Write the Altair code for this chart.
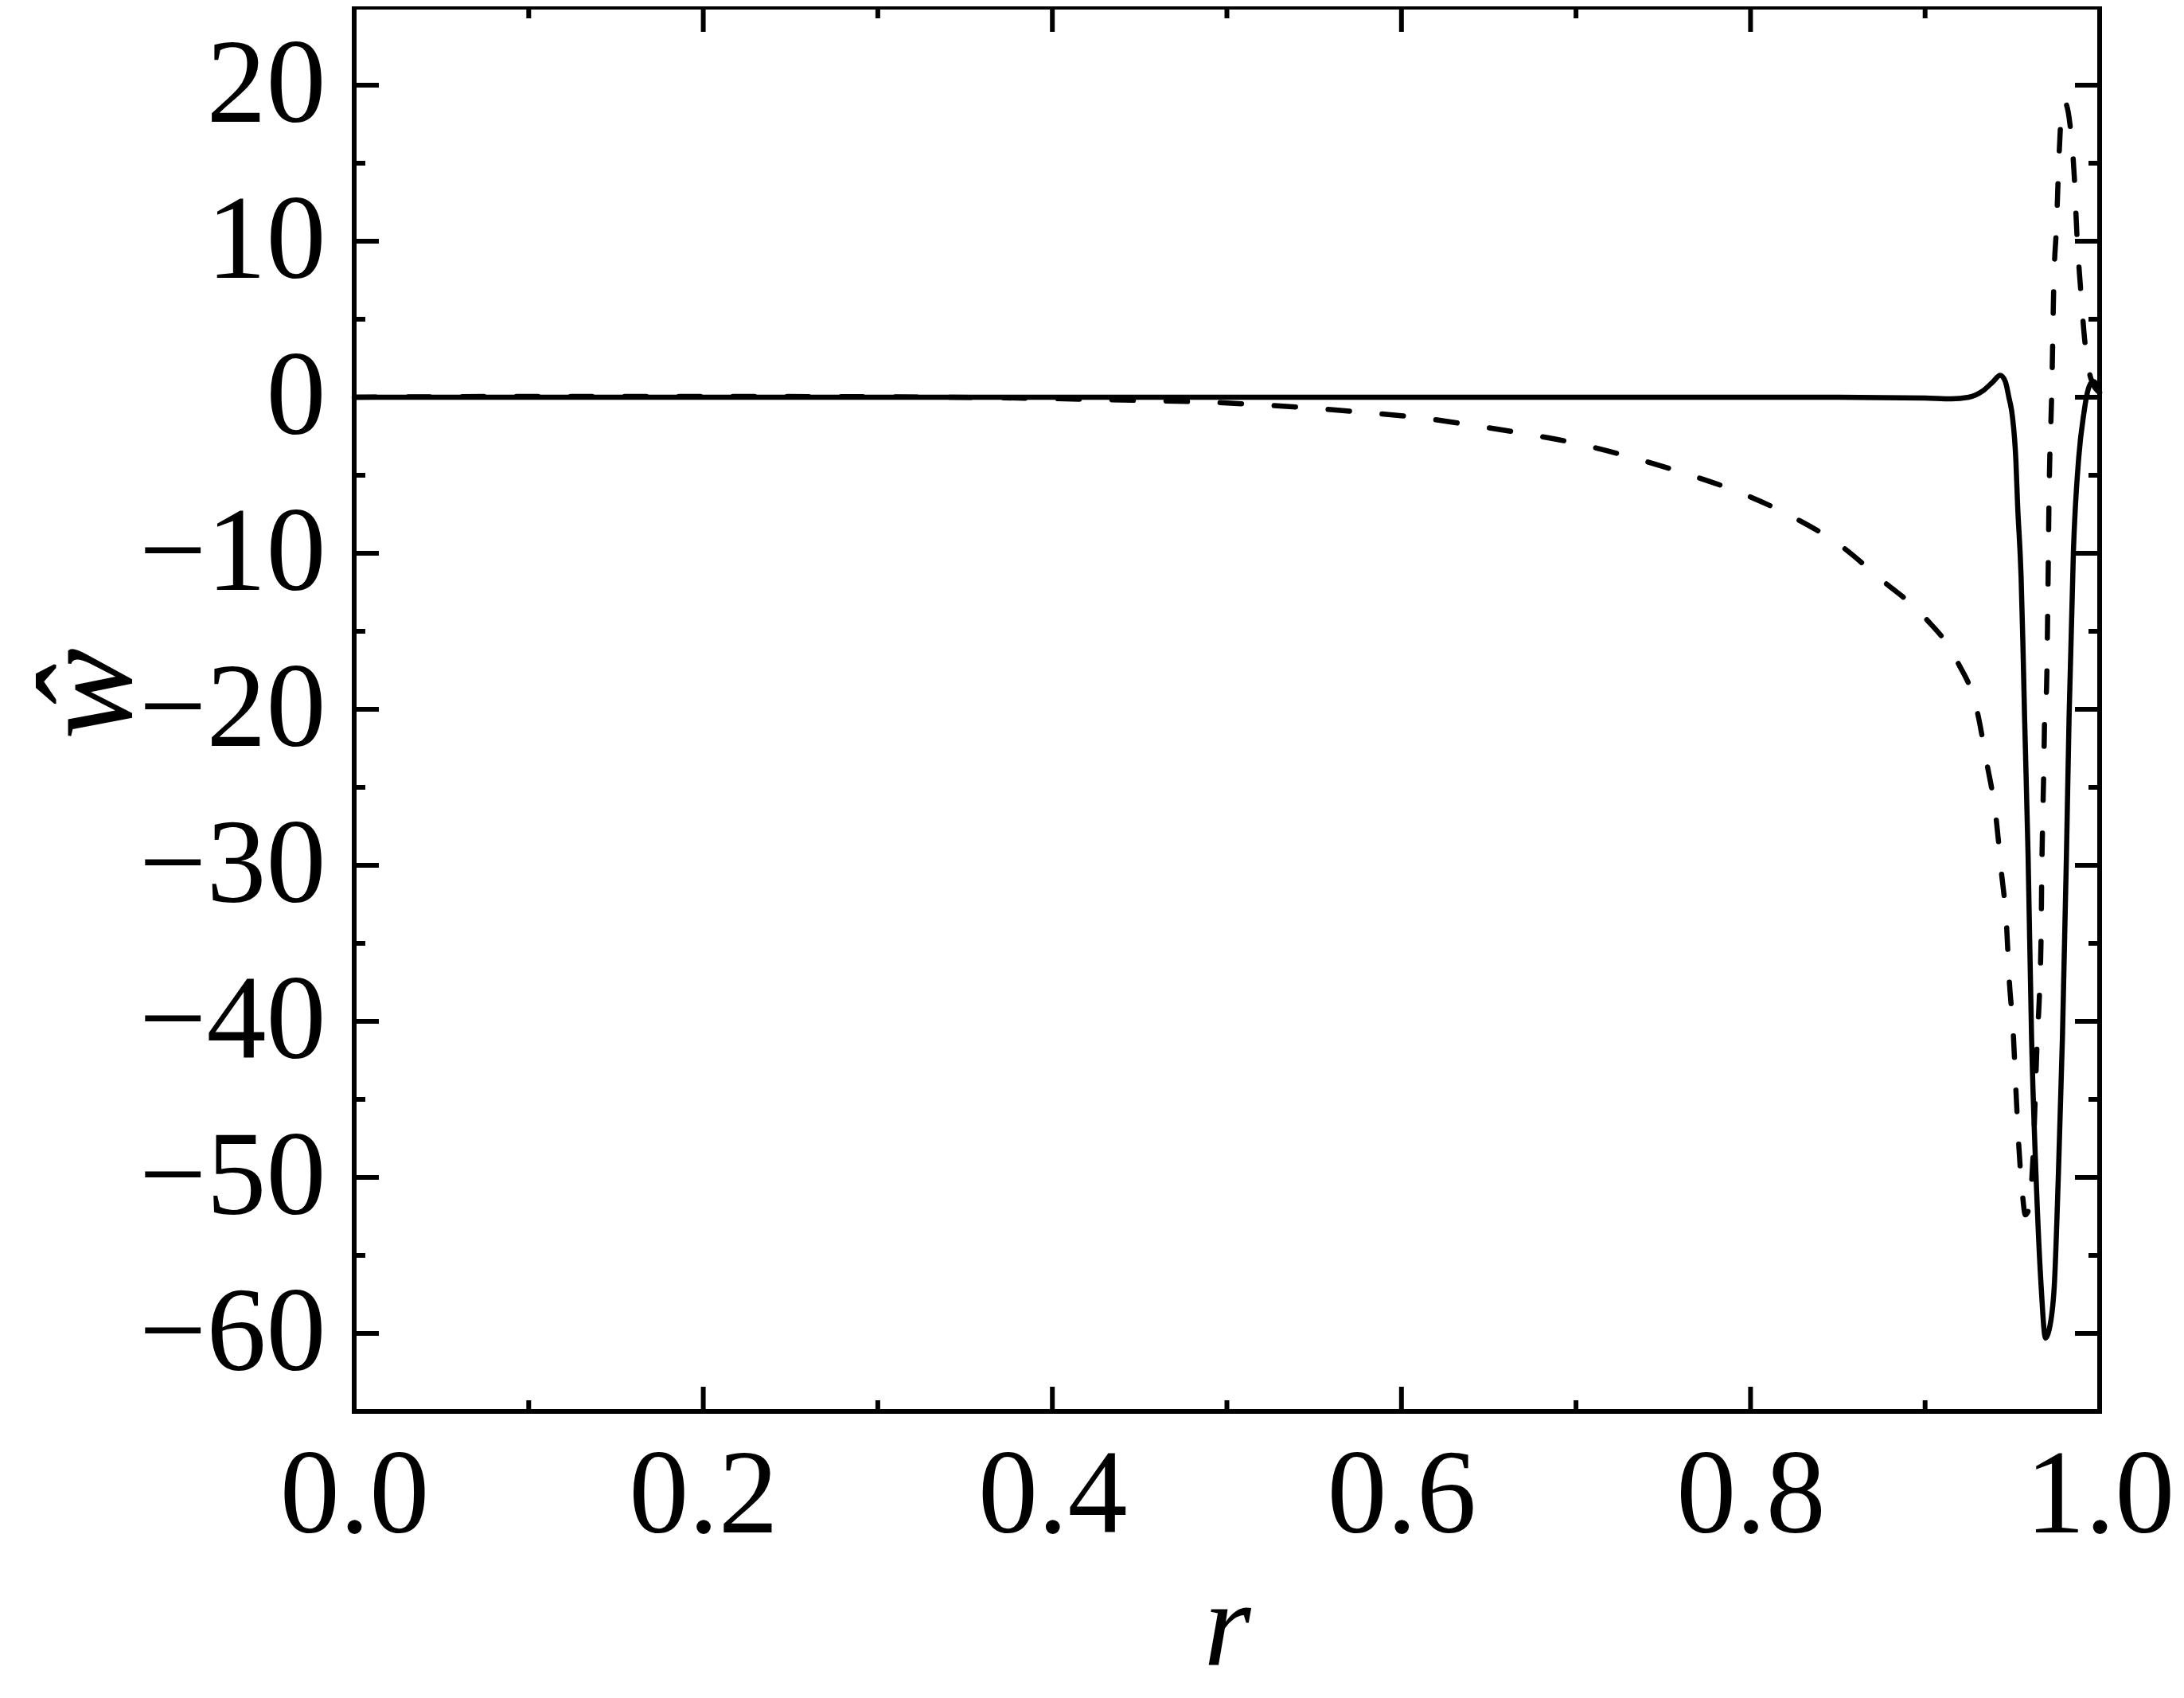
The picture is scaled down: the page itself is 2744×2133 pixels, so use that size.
import altair as alt
import pandas as pd

# solid curve (r, w_hat)
solid_r = [0.0, 0.3, 0.6, 0.85, 0.90, 0.915, 0.925, 0.933, 0.939, 0.943, 0.946, 0.948,
           0.950, 0.952, 0.953, 0.955, 0.956, 0.957, 0.959, 0.961, 0.9635, 0.9665, 0.969,
           0.971, 0.974, 0.9764, 0.9787, 0.981, 0.9825, 0.985, 0.988, 0.991, 0.993, 0.995,
           0.997, 0.999, 1.0]
solid_w = [0.0, 0.0, 0.0, 0.0, -0.05, -0.1, 0.0, 0.4, 1.0, 1.4, 1.0, 0.0,
           -1.2, -4.0, -6.9, -11.5, -15.6, -20.5, -29.3, -41.0, -49.7, -57.0, -60.3,
           -59.8, -57.0, -49.7, -41.0, -29.3, -20.5, -9.8, -3.9, -1.0, 0.3, 0.9,
           1.0, 0.6, 0.4]

# dashed curve (r, w_hat)
dash_r = [0.0, 0.1, 0.2, 0.3, 0.38, 0.423, 0.456, 0.486, 0.517, 0.547, 0.579, 0.611,
          0.641, 0.671, 0.702, 0.732, 0.763, 0.793, 0.823, 0.851, 0.875, 0.8997, 0.9183,
          0.930, 0.9353, 0.9406, 0.9437, 0.9467, 0.9482, 0.9505, 0.952, 0.9536, 0.9559,
          0.9574, 0.9595, 0.962, 0.9642, 0.9657, 0.9665, 0.9668, 0.9673, 0.968, 0.9685,
          0.9696, 0.9703, 0.971, 0.9726, 0.9738, 0.9753, 0.9764, 0.9779, 0.9784, 0.980,
          0.983, 0.9855, 0.987, 0.989, 0.9916, 0.995, 1.0]
dash_w = [0.0, 0.05, 0.05, 0.03, -0.05, -0.14, -0.22, -0.3, -0.47, -0.68, -0.98, -1.32,
          -1.8, -2.34, -3.0, -3.86, -4.9, -6.07, -7.6, -9.46, -11.7, -14.1, -16.9,
          -20.2, -23.4, -26.9, -30.4, -33.9, -37.3, -40.7, -44.3, -47.8, -51.2,
          -52.4, -52.0, -48.3, -41.3, -37.7, -34.2, -30.9, -27.5, -23.9, -20.5,
          -18.6, -13.3, -6.6, 0.5, 7.5, 11.0, 14.5, 18.0, 18.8, 18.9,
          17.5, 14.1, 10.4, 7.1, 3.5, 1.2, 0.3]

x_major = [0.0, 0.2, 0.4, 0.6, 0.8, 1.0]
x_minor = [0.1, 0.3, 0.5, 0.7, 0.9]
y_major = [-60, -50, -40, -30, -20, -10, 0, 10, 20]
y_minor = [-55, -45, -35, -25, -15, -5, 5, 15]

W, H = 2193, 1764
MAJ, MIN = 31, 14
FONT = "Liberation Serif, Times New Roman, serif"

xs = alt.Scale(domain=[0, 1], nice=False, zero=False)
ys = alt.Scale(domain=[-65, 25], nice=False, zero=False)

df_s = pd.DataFrame({"r": solid_r, "w": solid_w})
df_d = pd.DataFrame({"r": dash_r, "w": dash_w})

x_axis = alt.Axis(values=x_major, format=".1f", ticks=False, tickSize=0, domain=False, grid=False,
                  labelFont=FONT, labelFontSize=150, labelColor="black", labelPadding=32,
                  labelBaseline="top", labelFlush=False, labelOverlap=False, labelLimit=2000,
                  title="r", titleFont=FONT, titleFontSize=152, titleFontStyle="italic",
                  titleFontWeight="normal", titleColor="black", titleBaseline="alphabetic",
                  titleY=318, titleLimit=2000)
y_axis = alt.Axis(values=y_major, format="d", ticks=False, tickSize=0, domain=False, grid=False,
                  labelFont=FONT, labelFontSize=150, labelColor="black", labelPadding=36,
                  labelFlush=False, labelOverlap=False, labelLimit=2000,
                  labelExpr="replace(datum.label, '-', '\u2212')",
                  title="\u0175", titleFont=FONT, titleFontSize=172, titleFontStyle="italic",
                  titleFontWeight="normal", titleColor="black", titleBaseline="alphabetic",
                  titleAngle=270, titleX=-282, titleY=862, titleLimit=2000)

solid = alt.Chart(df_s).mark_line(color="black", strokeWidth=6.5, interpolate="monotone").encode(
    x=alt.X("r:Q", scale=xs, axis=x_axis),
    y=alt.Y("w:Q", scale=ys, axis=y_axis),
)
dashed = alt.Chart(df_d).mark_line(color="black", strokeWidth=6.5, strokeDash=[27, 41],
                                   strokeCap="round", interpolate="monotone").encode(
    x=alt.X("r:Q", scale=xs),
    y=alt.Y("w:Q", scale=ys),
)

def xticks(vals, L):
    d = pd.DataFrame({"v": vals})
    b = alt.Chart(d).mark_rule(color="black", strokeWidth=6).encode(
        x=alt.X("v:Q", scale=xs), y=alt.value(H), y2=alt.value(H - L))
    t = alt.Chart(d).mark_rule(color="black", strokeWidth=6).encode(
        x=alt.X("v:Q", scale=xs), y=alt.value(0), y2=alt.value(L))
    return [b, t]

def yticks(vals, L):
    d = pd.DataFrame({"v": vals})
    l = alt.Chart(d).mark_rule(color="black", strokeWidth=6).encode(
        y=alt.Y("v:Q", scale=ys), x=alt.value(0), x2=alt.value(L))
    r = alt.Chart(d).mark_rule(color="black", strokeWidth=6).encode(
        y=alt.Y("v:Q", scale=ys), x=alt.value(W), x2=alt.value(W - L))
    return [l, r]

layers = [solid, dashed] + xticks(x_major, MAJ) + xticks(x_minor, MIN) + yticks(y_major, MAJ) + yticks(y_minor, MIN)

chart = alt.layer(*layers).properties(
    width=W, height=H,
    padding={"left": 437, "top": 1, "right": 97, "bottom": 350},
    autosize=alt.AutoSizeParams(type="none"),
    background="white",
).configure_view(stroke="black", strokeWidth=6)

chart.save("out.html", embed_options={"renderer": "svg", "actions": False})
